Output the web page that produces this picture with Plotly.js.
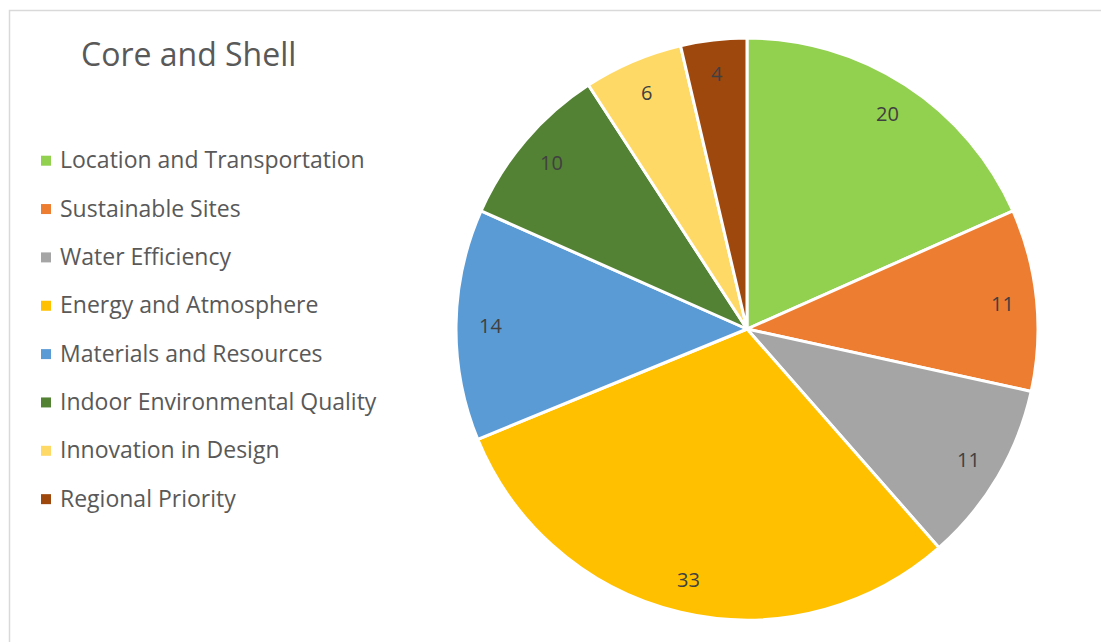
<!DOCTYPE html>
<html>
<head>
<meta charset="utf-8">
<script src="https://cdn.plot.ly/plotly-3.0.1.min.js"></script>
<style>
html,body{margin:0;padding:0;background:#fff;}
#chart{width:1101px;height:642px;}
</style>
</head>
<body>
<div id="chart"></div>
<script>
var chartTitle = "Core and Shell";
var categories = ["Location and Transportation","Sustainable Sites","Water Efficiency","Energy and Atmosphere","Materials and Resources","Indoor Environmental Quality","Innovation in Design","Regional Priority"];
var values = [20, 11, 11, 33, 14, 10, 6, 4];
var colors = ["#92D050","#ED7D31","#A5A5A5","#FFC000","#5B9BD5","#548235","#FFD966","#9E480E"];

var W = 1101, H = 642;
var FONT = "'Open Sans', 'Noto Sans', sans-serif";
var CX = 747, CY = 329, R = 291;   // pie placement in pixels (layout)

var trace = {
  type: "pie",
  labels: categories,
  values: values,
  sort: false,
  direction: "clockwise",
  rotation: 0,
  marker: {colors: colors, line: {color: "#ffffff", width: 3}},
  textinfo: "none",
  domain: {x: [(CX-R)/W, (CX+R)/W], y: [1-(CY+R)/H, 1-(CY-R)/H]},
  showlegend: false,
  hoverinfo: "label+value"
};

var annotations = [{
  text: chartTitle, xref: "paper", yref: "paper",
  x: 79/W, y: 1-53.5/H, xanchor: "left", yanchor: "middle", showarrow: false,
  font: {family: FONT, size: 32, color: "#595959"}
}];
var shapes = [{
  type: "rect", xref: "paper", yref: "paper",
  x0: 9.5/W, x1: 1.01, y0: -0.01, y1: 1-10.5/H,
  line: {color: "#D9D9D9", width: 1.5}, fillcolor: "rgba(0,0,0,0)", layer: "below"
}];

// legend entries
categories.forEach(function(c, i){
  var yc = 160.7 + i*48.35;
  annotations.push({
    text: c, xref: "paper", yref: "paper",
    x: 58/W, y: 1-(yc-1.5)/H, xanchor: "left", yanchor: "middle", showarrow: false,
    font: {family: FONT, size: 23, color: "#595959"}
  });
  shapes.push({
    type: "rect", xref: "paper", yref: "paper",
    x0: 41/W, x1: 51/W, y0: 1-(yc+5)/H, y1: 1-(yc-5)/H,
    line: {width: 0}, fillcolor: colors[i]
  });
});

// data labels placed at each slice's mid-angle, derived from the values
var total = values.reduce(function(a, b){ return a + b; }, 0);
var cum = 0;
values.forEach(function(v){
  var mid = (cum + v/2) / total * 2 * Math.PI;
  cum += v;
  var px = CX + 0.883*R*Math.sin(mid);
  var py = CY - 0.883*R*Math.cos(mid);
  annotations.push({
    text: String(v), xref: "paper", yref: "paper",
    x: px/W, y: 1-py/H, xanchor: "center", yanchor: "middle", showarrow: false,
    font: {family: FONT, size: 20, color: "#404040"}
  });
});

var layout = {
  width: W, height: H,
  margin: {l: 0, r: 0, t: 0, b: 0},
  paper_bgcolor: "#ffffff",
  showlegend: false,
  annotations: annotations,
  shapes: shapes
};
Plotly.newPlot("chart", [trace], layout, {displayModeBar: false, staticPlot: true});
</script>
</body>
</html>
